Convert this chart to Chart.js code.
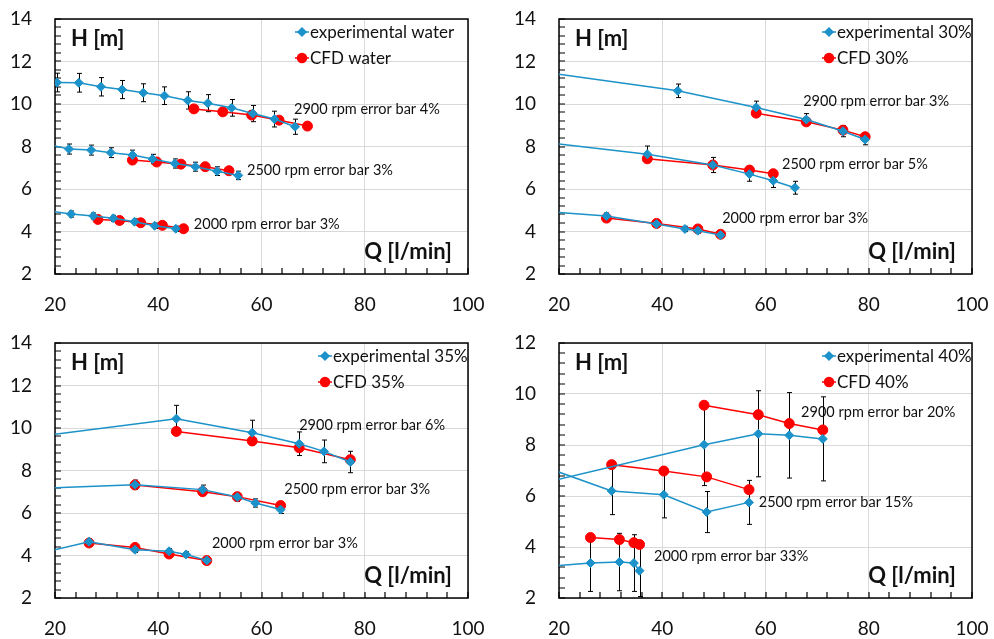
<!DOCTYPE html>
<html>
<head>
<meta charset="utf-8">
<title>H-Q curves: experimental vs CFD</title>
<script src="https://cdn.jsdelivr.net/npm/chart.js@4.4.0/dist/chart.umd.min.js"></script>
<style>
    html, body { margin: 0; padding: 0; background: #fff; }
    body { position: relative; width: 994px; height: 639px; overflow: hidden; }
    .panel { position: absolute; }
</style>
</head>
<body>
<div class="panel" style="left:0;top:0"><canvas id="chart-water" width="497" height="320"></canvas></div>
<div class="panel" style="left:497px;top:0"><canvas id="chart-30" width="497" height="320"></canvas></div>
<div class="panel" style="left:0;top:320px"><canvas id="chart-35" width="497" height="319"></canvas></div>
<div class="panel" style="left:497px;top:320px"><canvas id="chart-40" width="497" height="319"></canvas></div>
<script>
// Colours
const BLUE = '#1b92c9';
const RED = '#ff0000';
const GRID = '#d9d9d9';

// Axis ticks
const X_TICKS = [20, 40, 60, 80, 100];
const Y_TICKS_14 = [2, 4, 6, 8, 10, 12, 14];
const Y_TICKS_12 = [2, 4, 6, 8, 10, 12];

// --- water: [Q l/min, H m] ---
const waterExp2900 = [[20.4, 11.01], [24.6, 11.0], [28.9, 10.81], [33.0, 10.68], [37.1, 10.53], [41.2, 10.39], [45.7, 10.17], [49.6, 10.04], [54.2, 9.82], [58.3, 9.55], [62.5, 9.29], [66.5, 8.93]];
const waterCfd2900 = [[46.9, 9.77], [52.5, 9.63], [58.1, 9.48], [63.4, 9.24], [68.9, 8.96]];
const waterExp2500 = [[16, 8.23], [22.7, 7.88], [27.0, 7.83], [30.8, 7.71], [35.0, 7.60], [38.9, 7.41], [43.2, 7.20], [47.2, 7.05], [51.4, 6.84], [55.5, 6.64]];
const waterCfd2500 = [[35.0, 7.36], [39.7, 7.27], [44.4, 7.17], [49.1, 7.05], [53.7, 6.86]];
const waterExp2000 = [[16, 5.07], [23.1, 4.82], [27.4, 4.73], [31.3, 4.62], [35.4, 4.46], [39.3, 4.27], [43.4, 4.13]];
const waterCfd2000 = [[28.3, 4.57], [32.5, 4.52], [36.6, 4.41], [40.8, 4.29], [44.9, 4.13]];
const waterErr = [0.04, 0.03, 0.03];
const waterNotes = ['2900 rpm error bar 4%', '2500 rpm error bar 3%', '2000 rpm error bar 3%'];

// --- 30% ---
const p30Exp2900 = [[10, 11.74], [43.0, 10.62], [58.2, 9.84], [67.9, 9.27], [75.0, 8.72], [79.3, 8.33]];
const p30Cfd2900 = [[58.2, 9.57], [67.9, 9.16], [75.0, 8.77], [79.3, 8.46]];
const p30Exp2500 = [[10, 8.39], [37.1, 7.64], [49.8, 7.13], [56.9, 6.70], [61.5, 6.39], [65.7, 6.06]];
const p30Cfd2500 = [[37.1, 7.42], [49.8, 7.13], [56.9, 6.89], [61.5, 6.72]];
const p30Exp2000 = [[10, 5.08], [29.2, 4.73], [38.9, 4.35], [44.4, 4.12], [46.9, 4.04], [51.3, 3.83]];
const p30Cfd2000 = [[29.2, 4.63], [38.9, 4.38], [46.9, 4.12], [51.3, 3.87]];
const p30Err = [0.03, 0.05, 0.03];
const p30Notes = ['2900 rpm error bar 3%', '2500 rpm error bar 5%', '2000 rpm error bar 3%'];

// --- 35% ---
const p35Exp2900 = [[10, 9.39], [43.5, 10.44], [58.2, 9.78], [67.3, 9.26], [72.1, 8.90], [77.2, 8.40]];
const p35Cfd2900 = [[43.5, 9.84], [58.2, 9.39], [67.3, 9.07], [77.2, 8.51]];
const p35Exp2500 = [[10, 7.10], [35.5, 7.33], [48.6, 7.10], [55.3, 6.75], [58.8, 6.47], [63.7, 6.16]];
const p35Cfd2500 = [[35.5, 7.32], [48.6, 7.00], [55.3, 6.77], [63.7, 6.35]];
const p35Exp2000 = [[10, 3.69], [26.6, 4.65], [35.5, 4.27], [42.1, 4.20], [45.4, 4.05], [49.4, 3.77]];
const p35Cfd2000 = [[26.6, 4.59], [35.5, 4.38], [42.1, 4.07], [49.4, 3.76]];
const p35Err = [0.06, 0.03, 0.03];
const p35Notes = ['2900 rpm error bar 6%', '2500 rpm error bar 3%', '2000 rpm error bar 3%'];

// --- 40% ---
const p40Exp2900 = [[10, 6.17], [48.1, 8.01], [58.6, 8.44], [64.6, 8.38], [71.1, 8.24]];
const p40Cfd2900 = [[48.1, 9.56], [58.6, 9.19], [64.6, 8.84], [71.1, 8.59]];
const p40Exp2500 = [[10, 7.66], [30.2, 6.20], [40.3, 6.05], [48.6, 5.37], [56.8, 5.75]];
const p40Cfd2500 = [[30.2, 7.23], [40.3, 6.98], [48.6, 6.75], [56.8, 6.25]];
const p40Exp2000 = [[10, 3.13], [26.1, 3.37], [31.7, 3.41], [34.5, 3.37], [35.6, 3.07]];
const p40Cfd2000 = [[26.1, 4.37], [31.7, 4.29], [34.5, 4.17], [35.6, 4.10]];
const p40Err = [0.20, 0.15, 0.33];
const p40Notes = ['2900 rpm error bar 20%', '2500 rpm error bar 15%', '2000 rpm error bar 33%'];

// panel setup (box = plot area margins inside each canvas)
const panels = [
    {
        canvas: 'chart-water', fluid: 'water', yMax: 14, yTicks: Y_TICKS_14,
        box: { left: 55, top: 19, right: 29, bottom: 46 },
        exp: [waterExp2900, waterExp2500, waterExp2000],
        cfd: [waterCfd2900, waterCfd2500, waterCfd2000],
        err: waterErr, notes: waterNotes,
        notePos: [[66.3, 9.76], [57.2, 6.89], [46.9, 4.35]],
        legendX: 240
    },
    {
        canvas: 'chart-30', fluid: '30%', yMax: 14, yTicks: Y_TICKS_14,
        box: { left: 62, top: 19, right: 22, bottom: 46 },
        exp: [p30Exp2900, p30Exp2500, p30Exp2000],
        cfd: [p30Cfd2900, p30Cfd2500, p30Cfd2000],
        err: p30Err, notes: p30Notes,
        notePos: [[67.3, 10.14], [63.2, 7.18], [51.6, 4.64]],
        legendX: 263
    },
    {
        canvas: 'chart-35', fluid: '35%', yMax: 14, yTicks: Y_TICKS_14,
        box: { left: 55, top: 23, right: 29, bottom: 41 },
        exp: [p35Exp2900, p35Exp2500, p35Exp2000],
        cfd: [p35Cfd2900, p35Cfd2500, p35Cfd2000],
        err: p35Err, notes: p35Notes,
        notePos: [[67.3, 10.14], [64.4, 7.13], [50.4, 4.59]],
        legendX: 263
    },
    {
        canvas: 'chart-40', fluid: '40%', yMax: 12, yTicks: Y_TICKS_12,
        box: { left: 62, top: 23, right: 22, bottom: 41 },
        exp: [p40Exp2900, p40Exp2500, p40Exp2000],
        cfd: [p40Cfd2900, p40Cfd2500, p40Cfd2000],
        err: p40Err, notes: p40Notes,
        notePos: [[66.9, 9.29], [58.7, 5.76], [38.4, 3.65]],
        legendX: 263
    }
];

/**
 * Frame, inner ticks, error bars and all the texts of one panel
 */
function makeDecor(p) {
    return {
        id: 'decor',
        beforeDatasetsDraw(chart) {
            const { ctx, chartArea: a, scales: { x, y } } = chart;
            ctx.save();
            ctx.strokeStyle = '#000';
            ctx.lineWidth = 1.5;
            ctx.strokeRect(a.left, a.top, a.right - a.left, a.bottom - a.top);

            // small ticks pointing into the plot
            ctx.lineWidth = 1.2;
            ctx.beginPath();
            for (let v = 20; v <= 100; v += 4) {
                const px = Math.round(x.getPixelForValue(v));
                ctx.moveTo(px, a.bottom);
                ctx.lineTo(px, a.bottom - 6);
            }
            const n = Math.round((p.yMax - 2) / 0.4);
            for (let k = 0; k <= n; k++) {
                const py = Math.round(y.getPixelForValue(2 + k * 0.4));
                ctx.moveTo(a.left, py);
                ctx.lineTo(a.left + 6, py);
            }
            ctx.stroke();

            // error bars (experimental only)
            ctx.beginPath();
            ctx.rect(a.left, a.top, a.right - a.left, a.bottom - a.top);
            ctx.clip();
            ctx.lineWidth = 1;
            ctx.strokeStyle = '#000';
            chart.data.datasets.forEach((ds, i) => {
                if (!ds.errorFrac) return;
                const meta = chart.getDatasetMeta(i);
                ds.data.forEach((pt, j) => {
                    const px = Math.round(meta.data[j].x) + 0.5;
                    const hi = y.getPixelForValue(pt[1] * (1 + ds.errorFrac));
                    const lo = y.getPixelForValue(pt[1] * (1 - ds.errorFrac));
                    ctx.beginPath();
                    ctx.moveTo(px, hi);
                    ctx.lineTo(px, lo);
                    ctx.moveTo(px - 2.5, hi);
                    ctx.lineTo(px + 2.5, hi);
                    ctx.moveTo(px - 2.5, lo);
                    ctx.lineTo(px + 2.5, lo);
                    ctx.stroke();
                });
            });
            ctx.restore();
        },
        afterDatasetsDraw(chart) {
            const { ctx, chartArea: a, scales: { x, y } } = chart;
            ctx.save();
            ctx.fillStyle = '#111';
            ctx.textBaseline = 'middle';
            ctx.textAlign = 'left';

            ctx.font = '14.5px Lato';
            p.notes.forEach((t, k) => {
                ctx.fillText(t, x.getPixelForValue(p.notePos[k][0]), y.getPixelForValue(p.notePos[k][1]));
            });

            ctx.font = 'bold 22px Lato';
            ctx.fillText('H [m]', a.left + 16, a.top + 20);
            ctx.textAlign = 'right';
            ctx.fillText('Q [l/min]', a.right - 16, a.bottom - 22);

            // legend
            const rows = [
                { text: 'experimental ' + p.fluid, color: BLUE, style: 'rectRot', r: 4, dy: 13 },
                { text: 'CFD ' + p.fluid, color: RED, style: 'circle', r: 4.5, dy: 39 }
            ];
            const lx = a.left + p.legendX;
            ctx.textAlign = 'left';
            ctx.font = '17px Lato';
            rows.forEach(r => {
                const ly = a.top + r.dy;
                ctx.strokeStyle = r.color;
                ctx.fillStyle = r.color;
                ctx.lineWidth = 1.5;
                ctx.beginPath();
                ctx.moveTo(lx, ly);
                ctx.lineTo(lx + 14, ly);
                ctx.stroke();
                Chart.helpers.drawPoint(ctx, { pointStyle: r.style, radius: r.r, borderWidth: 1 }, lx + 7, ly);
                ctx.fillStyle = '#111';
                ctx.fillText(r.text, lx + 15, ly + 1);
            });
            ctx.restore();
        }
    };
}

function buildDatasets(p) {
    const sets = [];
    for (let k = 0; k < 3; k++) {
        sets.push({
            label: 'experimental ' + p.fluid,
            data: p.exp[k],
            errorFrac: p.err[k],
            showLine: true,
            borderColor: BLUE,
            backgroundColor: BLUE,
            borderWidth: 1.5,
            pointStyle: 'rectRot',
            pointRadius: 4.5,
            pointBorderWidth: 1
        });
    }
    for (let k = 0; k < 3; k++) {
        sets.push({
            label: 'CFD ' + p.fluid,
            data: p.cfd[k],
            showLine: true,
            borderColor: RED,
            backgroundColor: RED,
            borderWidth: 1.5,
            pointStyle: 'circle',
            pointRadius: 5,
            pointBorderWidth: 1
        });
    }
    return sets;
}

function createPanel(p) {
    const canvas = document.getElementById(p.canvas);
    const tickFont = { family: 'Lato', size: 19 };
    // label offsets come from invisible tick marks so the scale padding stays small
    return new Chart(canvas.getContext('2d'), {
        type: 'scatter',
        data: { datasets: buildDatasets(p) },
        options: {
            responsive: false,
            animation: false,
            layout: { padding: { top: p.box.top, right: p.box.right, bottom: 0, left: 0 } },
            plugins: { legend: { display: false }, tooltip: { enabled: false } },
            scales: {
                x: {
                    type: 'linear',
                    min: 20,
                    max: 100,
                    afterBuildTicks: s => { s.ticks = X_TICKS.map(v => ({ value: v })); },
                    afterFit: s => { s.height = p.box.bottom; },
                    ticks: { font: tickFont, color: '#111', padding: 0, maxRotation: 0 },
                    grid: { color: GRID, drawTicks: true, tickLength: 19, tickColor: 'rgba(0,0,0,0)' },
                    border: { display: false }
                },
                y: {
                    type: 'linear',
                    min: 2,
                    max: p.yMax,
                    afterBuildTicks: s => { s.ticks = p.yTicks.map(v => ({ value: v })); },
                    afterFit: s => { s.width = p.box.left; },
                    ticks: { font: tickFont, color: '#111', padding: 0 },
                    grid: { color: GRID, drawTicks: true, tickLength: 23, tickColor: 'rgba(0,0,0,0)' },
                    border: { display: false }
                }
            }
        },
        plugins: [makeDecor(p)]
    });
}

const fontsReady = document.fonts && document.fonts.load
    ? Promise.all([document.fonts.load('19px Lato'), document.fonts.load('bold 22px Lato')])
    : Promise.resolve();
fontsReady.catch(() => {}).then(() => panels.forEach(createPanel));
</script>
</body>
</html>
